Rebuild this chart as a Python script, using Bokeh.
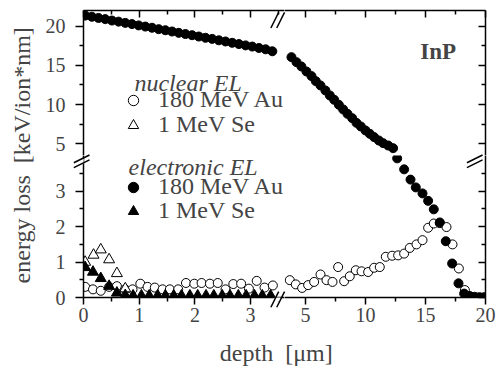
import math
from bokeh.plotting import figure
from bokeh.models import (Range1d, LinearAxis, FixedTicker, Arrow, Label, Legend,
                          LegendItem, GridBox)
from bokeh.embed import file_html
from bokeh.resources import INLINE

# ---------------- data ----------------
# nuclear energy loss, 180 MeV Au (open circles)
nuc_au_x = [0.03, 0.17, 0.31, 0.46, 0.60, 0.75, 0.88, 1.02, 1.15, 1.28, 1.42, 1.55, 1.70,
            1.84, 1.99, 2.12, 2.27, 2.41, 2.55, 2.69, 2.83, 2.97, 3.11, 3.25, 3.40,
            3.69, 4.19, 4.72, 5.22, 5.72, 6.25, 6.75, 7.25, 7.72, 8.22, 8.69, 9.19, 9.67,
            10.22, 10.72, 11.19, 11.69, 12.22, 12.72, 13.22, 13.69, 14.25, 14.75, 15.22,
            15.69, 16.19, 16.75, 17.25, 17.78, 18.28]
nuc_au_y = [0.30, 0.23, 0.19, 0.30, 0.32, 0.23, 0.23, 0.39, 0.30, 0.28, 0.23, 0.23, 0.23,
            0.41, 0.39, 0.41, 0.39, 0.41, 0.23, 0.38, 0.39, 0.25, 0.47, 0.28, 0.34,
            0.49, 0.37, 0.27, 0.35, 0.44, 0.65, 0.49, 0.44, 0.86, 0.46, 0.60, 0.77, 0.74,
            0.72, 0.84, 0.86, 1.15, 1.18, 1.19, 1.24, 1.40, 1.50, 1.62, 1.97,
            2.09, 2.10, 1.99, 1.50, 0.82, 0.21]

# nuclear energy loss, 1 MeV Se (open triangles)
nuc_se_x = [0.03, 0.18, 0.31, 0.46, 0.60, 0.75]
nuc_se_y = [1.00, 1.20, 1.35, 1.07, 0.68, 0.25]

# electronic energy loss, 180 MeV Au (filled circles)
el_au_x = [0.03, 0.15, 0.27, 0.39, 0.51, 0.63, 0.75, 0.87, 0.99, 1.11, 1.23, 1.35, 1.47,
           1.59, 1.71, 1.83, 1.95, 2.07, 2.19, 2.31, 2.43, 2.55, 2.67, 2.79, 2.91, 3.03,
           3.15, 3.27, 3.39,
           3.83, 4.25, 4.66, 5.08, 5.50, 5.86, 6.25, 6.66, 7.03, 7.39, 7.78, 8.14, 8.50,
           8.89, 9.25, 9.61, 10.00, 10.36, 10.72, 11.11, 11.47, 11.89, 12.30,
           12.64, 13.22, 13.75, 14.19, 14.75, 15.22, 15.69, 16.19, 16.69, 17.22, 17.75,
           18.22, 18.70, 19.10, 19.50, 19.90]
el_au_y = [21.35, 21.20, 21.05, 20.90, 20.72, 20.58, 20.42, 20.27, 20.10, 19.95, 19.80,
           19.62, 19.48, 19.32, 19.15, 19.00, 18.85, 18.68, 18.52, 18.38, 18.20, 18.05,
           17.88, 17.72, 17.55, 17.40, 17.22, 17.05, 16.80,
           16.05, 15.41, 14.86, 14.22, 13.63, 12.99, 12.44, 11.80, 11.16, 10.61, 9.97,
           9.38, 8.82, 8.27, 7.67, 7.21, 6.70, 6.27, 5.85, 5.42, 5.08, 4.78, 4.44,
           3.93, 3.62, 3.33, 3.11, 2.94, 2.73, 2.49, 2.12, 1.59, 0.96, 0.40,
           0.11, 0.04, 0.02, 0.01, 0.01]

# electronic energy loss, 1 MeV Se (filled triangles)
el_se_x = [0.03, 0.17, 0.31, 0.46, 0.60, 0.75, 0.89, 1.04, 1.18, 1.33, 1.47, 1.62, 1.76,
           1.91, 2.05, 2.20, 2.34, 2.49, 2.63, 2.78, 2.92, 3.07, 3.21, 3.36]
el_se_y = [0.85, 0.72, 0.54, 0.32, 0.13, 0.06, 0.05, 0.05, 0.05, 0.05, 0.05, 0.05, 0.05,
           0.05, 0.05, 0.05, 0.05, 0.05, 0.05, 0.05, 0.05, 0.05, 0.05, 0.05]

# broken axes: the two segments of each axis
x_left_range = (0.0, 3.609)
x_right_range = (3.25, 20.0)
y_low_range = (0.0, 4.011)
y_high_range = (3.505, 22.0)
x_left_ticks = [0, 1, 2, 3]
x_left_minor = [0.5, 1.5, 2.5, 3.5]
x_right_ticks = [5, 10, 15, 20]
x_right_minor = [7.5, 12.5, 17.5]
y_low_ticks = [0, 1, 2, 3]
y_low_minor = [0.5, 1.5, 2.5, 3.5]
y_high_ticks = [5, 10, 15, 20]
y_high_minor = [7.5, 12.5, 17.5]

legend_groups = ["nuclear EL", "electronic EL"]
legend_labels = ["180 MeV Au", "1 MeV Se"]
material = "InP"
x_title = "depth\u00a0\u00a0[\u03bcm]"
y_title = "energy loss\u00a0\u00a0[keV/ion*nm]"

FONT = "Liberation Serif"
LW = 1.5
W, H = 496, 369

# page geometry (pixels from top-left)
X0 = 83          # left edge of frame
XB = 284         # column boundary (x break)
X1 = 485         # right edge of frame
Y0 = 10          # top of frame
YB = 155         # row boundary (y break)
Y1 = 297         # bottom of frame
COL0 = 38
ROW2 = 331


def panel(width, height, xr, yr, ml, mr, mt, mb):
    p = figure(width=width, height=height, x_range=Range1d(*xr), y_range=Range1d(*yr),
               output_backend="svg", toolbar_location=None,
               x_axis_location=None, y_axis_location=None,
               min_border_left=ml, min_border_right=mr, min_border_top=mt,
               min_border_bottom=mb)
    p.grid.visible = False
    p.outline_line_color = None
    p.background_fill_color = "white"
    p.border_fill_color = "white"
    return p


def axis(ticks, minor, labels, tin, tout, mtin, mtout, standoff=4):
    ax = LinearAxis(ticker=FixedTicker(ticks=ticks, minor_ticks=minor))
    ax.axis_line_width = LW
    ax.major_tick_line_width = LW
    ax.minor_tick_line_width = LW
    ax.major_tick_in = tin
    ax.major_tick_out = tout
    ax.minor_tick_in = mtin
    ax.minor_tick_out = mtout
    if labels:
        ax.major_label_text_font = FONT
        ax.major_label_text_font_size = "20px"
        ax.major_label_standoff = standoff
    else:
        ax.major_label_text_font_size = "0px"
        ax.major_label_text_color = None
        ax.major_label_standoff = 0
    return ax


tl = panel(XB - COL0, YB, x_left_range, y_high_range, X0 - COL0, 0, Y0, 0)
tr = panel(W - XB, YB, x_right_range, y_high_range, 0, W - X1, Y0, 0)
bl = panel(XB - COL0, ROW2 - YB, x_left_range, y_low_range, X0 - COL0, 0, 0, ROW2 - Y1)
br = panel(W - XB, ROW2 - YB, x_right_range, y_low_range, 0, W - X1, 0, ROW2 - Y1)

tl.add_layout(axis(y_high_ticks, y_high_minor, True, 0, 8, 0, 4, standoff=10), "left")
tl.add_layout(axis(x_left_ticks, x_left_minor, False, 7, 0, 4, 0), "above")
tr.add_layout(axis(x_right_ticks, x_right_minor, False, 7, 0, 4, 0), "above")
tr.add_layout(axis(y_high_ticks, y_high_minor, False, 7, 0, 4, 0), "right")
bl.add_layout(axis(y_low_ticks, y_low_minor, True, 0, 8, 0, 4, standoff=10), "left")
bl.add_layout(axis(x_left_ticks, x_left_minor, True, 0, 7, 0, 4, standoff=3), "below")
br.add_layout(axis(x_right_ticks, x_right_minor, True, 0, 7, 0, 4, standoff=3), "below")
br.add_layout(axis(y_low_ticks, y_low_minor, False, 7, 0, 4, 0), "right")

# ---------------- data marks ----------------
panels = {(0, 0): tl, (0, 1): tr, (1, 0): bl, (1, 1): br}


def split(xs, ys):
    out = {}
    for (row, col) in panels:
        sx, sy = [], []
        for x, y in zip(xs, ys):
            in_x = (x <= x_left_range[1]) if col == 0 else (x > x_left_range[1])
            in_y = (y > y_low_range[1]) if row == 0 else (y <= y_low_range[1])
            if in_x and in_y:
                sx.append(x)
                sy.append(y)
        out[(row, col)] = (sx, sy)
    return out


st_nuc_au = dict(marker="circle", size=9, fill_color="white", line_color="black", line_width=1)
st_nuc_se = dict(marker="triangle", size=11, fill_color="white", line_color="black", line_width=1)
st_el_se = dict(marker="triangle", size=11, fill_color="black", line_color="black", line_width=1)
st_el_au = dict(marker="circle", size=9, fill_color="black", line_color="black", line_width=1)

for xs, ys, st in [(nuc_au_x, nuc_au_y, st_nuc_au), (nuc_se_x, nuc_se_y, st_nuc_se),
                   (el_se_x, el_se_y, st_el_se), (el_au_x, el_au_y, st_el_au)]:
    for key, (sx, sy) in split(xs, ys).items():
        if sx:
            panels[key].scatter(sx, sy, **st)

# ---------------- axis titles (strips) ----------------
def strip(w, h):
    f = figure(width=w, height=h, x_range=Range1d(0, w), y_range=Range1d(0, h),
               output_backend="svg", toolbar_location=None, x_axis_location=None,
               y_axis_location=None, min_border=0)
    f.grid.visible = False
    f.outline_line_color = None
    f.background_fill_color = "white"
    f.border_fill_color = "white"
    return f


ylab = strip(COL0, ROW2)
ylab.add_layout(Label(x=21, y=ROW2 - 167, text=y_title, angle=math.pi / 2,
                      text_font=FONT, text_font_size="24px", text_align="center",
                      text_baseline="middle"))
xlab = strip(W, H - ROW2)
xlab.add_layout(Label(x=282, y=H - 352, text=x_title, text_font=FONT,
                      text_font_size="24px", text_align="center", text_baseline="middle"))

# ---------------- transparent overlay: legend, material label, break marks ----------------
ov = figure(width=W, height=H, x_range=Range1d(0, W), y_range=Range1d(0, H),
            output_backend="svg", toolbar_location=None, x_axis_location=None,
            y_axis_location=None, min_border=0)
ov.grid.visible = False
ov.outline_line_color = None
ov.background_fill_color = None
ov.border_fill_color = None


def gy(y):
    return H - y


for text, hx, hy in [(legend_groups[0], 137, 75), (legend_groups[1], 131, 161)]:
    ov.add_layout(Label(x=hx, y=gy(hy), text=text, text_font=FONT, text_font_size="24px",
                        text_font_style="italic", text_baseline="middle", text_align="left"))

GB = 26  # legend glyph box (marker drawn at 40% of it)
HALF = GB // 2
nan = float("nan")
for lab, st, cy in [(legend_labels[0], st_nuc_au, 100), (legend_labels[1], st_nuc_se, 125),
                    (legend_labels[0], st_el_au, 187), (legend_labels[1], st_el_se, 211)]:
    r = ov.scatter(x=[nan], y=[nan], **st)
    leg = Legend(items=[LegendItem(label=lab, renderers=[r])],
                 location=(133 - HALF, gy(cy + HALF)),
                 border_line_color=None, background_fill_alpha=0, padding=0, margin=0,
                 spacing=0, glyph_width=GB, glyph_height=GB, label_height=GB,
                 label_standoff=int(158 - (133 + HALF)), label_text_font=FONT,
                 label_text_font_size="24px", label_text_baseline="middle")
    ov.add_layout(leg)

ov.add_layout(Label(x=466, y=gy(42), text=material, text_font=FONT, text_font_size="23px",
                    text_font_style="bold", text_align="right", text_baseline="middle"))


def seg(x0, y0, x1, y1, color="black", width=LW):
    ov.add_layout(Arrow(end=None, x_start=x0, y_start=gy(y0), x_end=x1, y_end=gy(y1),
                        line_color=color, line_width=width))


for yy in (Y1, Y0):
    seg(280.5, yy, 286.5, yy, color="white", width=4)
    for cx in (280.5, 286.5):
        seg(cx - 4, yy + 8, cx + 4, yy - 8)
for xx in (X0, X1):
    seg(xx, 152.5, xx, 157.5, color="white", width=4)
    for cy in (152.5, 157.5):
        seg(xx - 8, cy + 4, xx + 8, cy - 4)

grid = GridBox(children=[
    (ylab, 0, 0, 2, 1),
    (tl, 0, 1), (tr, 0, 2),
    (bl, 1, 1), (br, 1, 2),
    (xlab, 2, 0, 1, 3),
    (ov, 0, 0, 3, 3),
], spacing=0)

open("out.html", "w").write(file_html(grid, INLINE))
